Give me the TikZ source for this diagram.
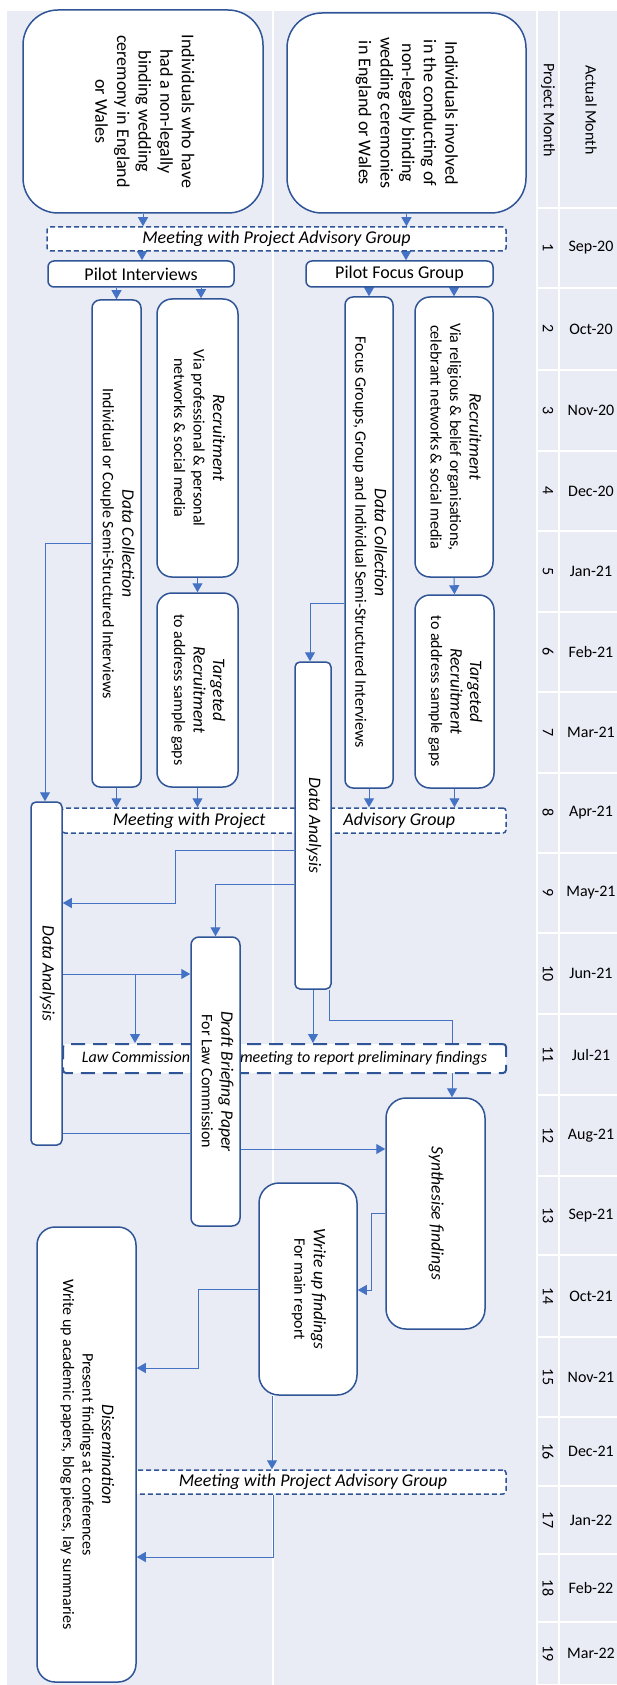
\documentclass[tikz,border=0pt]{standalone}
\usepackage{fontspec}
\setmainfont{Carlito}
\usepackage{graphicx}
\usetikzlibrary{arrows.meta}
\definecolor{lanebg}{RGB}{233,235,245}
\definecolor{boxline}{RGB}{47,85,151}
\definecolor{flowline}{RGB}{68,114,196}
\newcommand{\vtext}[1]{\rotatebox{-90}{\begin{tabular}{@{}c@{}}#1\end{tabular}}}
\newcommand{\boxhead}[1]{{\fontsize{17.5}{20}\selectfont\itshape #1}}
\pgfdeclarelayer{lanes}
\pgfdeclarelayer{flows}
\pgfsetlayers{lanes,flows,main}

\begin{document}
\begin{tikzpicture}[x=1pt, y=-1pt,
  box/.style={draw=boxline, line width=1.5pt, fill=white, rounded corners=#1, inner sep=0pt},
  box/.default=8pt,
  meet/.style={draw=boxline, line width=1.5pt, fill=white, rounded corners=3pt,
    dash pattern=on 5pt off 3pt, inner sep=0pt, font=\fontsize{18}{21}\selectfont\itshape},
  lawmeet/.style={meet, line width=2pt, dash pattern=on 14pt off 8pt,
    font=\fontsize{16}{19}\selectfont\itshape},
  flow/.style={draw=flowline, line width=1pt},
  arr/.style={flow, -{Triangle[width=10pt,length=9pt]}},
  big/.style={font=\fontsize{18}{21.6}\selectfont},
  body/.style={font=\fontsize{16}{19.5}\selectfont},
  tab/.style={font=\fontsize{16}{19}\selectfont, inner sep=0pt}
]
  \useasboundingbox (0,0) rectangle (617,1685);

  % Fundo das faixas e da tabela
  \begin{pgfonlayer}{lanes}
    \fill[lanebg] (7,11) rectangle (617,1685);
    \draw[white, line width=1.5pt] (273,11) -- (273,1685);
    \draw[white, line width=1.5pt] (537,11) -- (537,1685);
    \draw[white, line width=1.5pt] (559,11) -- (559,1685);
    \draw[white, line width=1.5pt] (537,208) -- (617,208);
  \end{pgfonlayer}

  % Cabecalho da tabela
  \node[tab, rotate=-90] (hdrP) at (548,110) {Project Month};
  \node[tab, rotate=-90] (hdrA) at (591,110) {Actual Month};

  % Meses do projeto
  \foreach \n/\mon/\ya/\yb in {1/Sep-20/208/288, 2/Oct-20/288/370, 3/Nov-20/370/451,
      4/Dec-20/451/531, 5/Jan-21/531/612, 6/Feb-21/612/692, 7/Mar-21/692/773,
      8/Apr-21/773/853, 9/May-21/853/933, 10/Jun-21/933/1014, 11/Jul-21/1014/1095,
      12/Aug-21/1095/1176, 13/Sep-21/1176/1255, 14/Oct-21/1255/1337,
      15/Nov-21/1337/1417, 16/Dec-21/1417/1486, 17/Jan-22/1486/1554,
      18/Feb-22/1554/1622, 19/Mar-22/1622/1685} {
    \node[tab, rotate=-90] (pm\n) at (548,{(\ya+\yb)/2}) {\n};
    \node[tab] (am\n) at (591,{(\ya+\yb)/2}) {\mon};
    \begin{pgfonlayer}{lanes}
      \draw[white, line width=1.5pt] (537,\yb) -- (617,\yb);
    \end{pgfonlayer}
  }

  % Grupos de participantes
  \node[box=35pt, big, minimum width=240pt, minimum height=203pt] (grpL) at (143,111.5)
    {\vtext{Individuals who have\\had a non-legally\\binding wedding\\ceremony in England\\or Wales}};
  \node[box=35pt, big, minimum width=239pt, minimum height=200pt] (grpR) at (406.5,113)
    {\vtext{Individuals involved\\in the conducting of\\non-legally binding\\wedding ceremonies\\in England or Wales}};

  \node[meet, minimum width=459pt, minimum height=24pt] (mtg1) at (276.5,239)
    {Meeting with Project Advisory Group};

  % Pilotos
  \node[box=6pt, big, minimum width=186pt, minimum height=26pt] (pilotL) at (141,274) {Pilot Interviews};
  \node[box=6pt, big, minimum width=187pt, minimum height=26pt] (pilotR) at (399.5,274) {Pilot Focus Group};

  % Recrutamento e coleta
  \node[box, body, minimum width=49pt, minimum height=487pt] (dcL) at (116.5,543.5)
    {\vtext{\boxhead{Data Collection}\\Individual or Couple Semi-Structured Interviews}};
  \node[box=15pt, body, minimum width=81pt, minimum height=278pt] (recL) at (197.5,438)
    {\vtext{\boxhead{Recruitment}\\Via professional \& personal\\networks \& social media}};
  \node[box=15pt, body, minimum width=81pt, minimum height=194pt] (tgtL) at (197.5,690)
    {\vtext{\boxhead{Targeted}\\\boxhead{Recruitment}\\to address sample gaps}};
  \node[box, body, minimum width=48pt, minimum height=491pt] (dcR) at (369,542.5)
    {\vtext{\boxhead{Data Collection}\\Focus Groups, Group and Individual Semi-Structured Interviews}};
  \node[box=15pt, body, minimum width=78pt, minimum height=280pt] (recR) at (454,437)
    {\vtext{\boxhead{Recruitment}\\Via religious \& belief organisations,\\celebrant networks \& social media}};
  \node[box=15pt, body, minimum width=79pt, minimum height=193pt] (tgtR) at (454.5,691.5)
    {\vtext{\boxhead{Targeted}\\\boxhead{Recruitment}\\to address sample gaps}};

  % Reunioes
  \node[meet, minimum width=444pt, minimum height=25pt] (mtg2) at (284,820.5)
    {Meeting with Project\hspace{78pt}Advisory Group};
  \node[lawmeet, minimum width=443pt, minimum height=29pt] (mtg3) at (284.5,1058.5)
    {Law Commission\hspace{50pt}meeting to report preliminary findings};
  \node[meet, minimum width=386pt, minimum height=24pt] (mtg4) at (313,1482)
    {Meeting with Project Advisory Group};

  % Analise e escrita
  \node[box=5pt, body, minimum width=31pt, minimum height=343pt] (daL) at (46.5,973.5)
    {\vtext{\boxhead{Data Analysis}}};
  \node[box=5pt, body, minimum width=36pt, minimum height=327pt] (daR) at (313,825.5)
    {\vtext{\boxhead{Data Analysis}}};
  \node[box, body, minimum width=49pt, minimum height=289pt] (draft) at (215.5,1081.5)
    {\vtext{\boxhead{Draft Briefing Paper}\\For Law Commission}};
  \node[box=20pt, body, minimum width=99pt, minimum height=231pt] (synth) at (435.5,1213.5)
    {\vtext{\boxhead{Synthesise findings}}};
  \node[box=20pt, body, minimum width=98pt, minimum height=212pt] (writeup) at (308,1289)
    {\vtext{\boxhead{Write up findings}\\For main report}};
  \node[box=18pt, body, minimum width=99pt, minimum height=455pt] (dissem) at (86.5,1454.5)
    {\vtext{\boxhead{Dissemination}\\Present findings at conferences\\Write up academic papers, blog pieces, lay summaries}};

  % Ligacoes
  \begin{pgfonlayer}{flows}
    \draw[arr] (grpL.south) -- (grpL.south |- mtg1.north);
    \draw[arr] (grpR.south) -- (grpR.south |- mtg1.north);
    \draw[arr] (mtg1.south -| 142,0) -- (pilotL.north -| 142,0);
    \draw[arr] (mtg1.south -| 406,0) -- (pilotR.north -| 406,0);
    \draw[arr] (pilotL.south -| dcL.north) -- (dcL.north);
    \draw[arr] (pilotL.south -| 201,0) -- (recL.north -| 201,0);
    \draw[arr] (pilotR.south -| dcR.north) -- (dcR.north);
    \draw[arr] (pilotR.south -| recR.north) -- (recR.north);
    \draw[arr] (recL.south) -- (tgtL.north);
    \draw[arr] (recR.south) -- (tgtR.north);
    \draw[arr] (dcL.south) -- (dcL.south |- mtg2.north);
    \draw[arr] (tgtL.south) -- (tgtL.south |- mtg2.north);
    \draw[arr] (dcR.south) -- (dcR.south |- mtg2.north);
    \draw[arr] (tgtR.south) -- (tgtR.south |- mtg2.north);
    \draw[arr] (dcL.west) -| (daL.north -| 45,0);
    \draw[arr] (dcR.west |- 0,603) -| (daR.north -| 310,0);
    \draw[arr] (daR.west |- 0,850) -| (175,903) -- (daL.east |- 0,903);
    \draw[arr] (daR.west |- 0,884) -| (draft.north);
    \draw[arr] (daL.east |- 0,974) -- (draft.west |- 0,974);
    \draw[arr] (daL.east |- 0,974) -| (mtg3.north -| 135,0);
    \draw[flow] (daL.east |- 0,1133) -- (draft.west |- 0,1133);
    \draw[arr] (daR.south) -- (daR.south |- mtg3.north);
    \draw[arr] (daR.south -| 329,0) -- (329,1020) -| (synth.north -| 452,0);
    \draw[arr] (draft.east |- 0,1149) -- (synth.west |- 0,1149);
    \draw[arr] (synth.west) -| (371,1290) -- (writeup.east |- 0,1290);
    \draw[arr] (writeup.west) -| (198,1368) -- (dissem.east |- 0,1368);
    \draw[arr] (writeup.south -| 272,0) -- (mtg4.north -| 272,0);
    \draw[arr] (mtg4.south -| 273,0) |- (dissem.east |- 0,1557);
  \end{pgfonlayer}
\end{tikzpicture}
\end{document}
